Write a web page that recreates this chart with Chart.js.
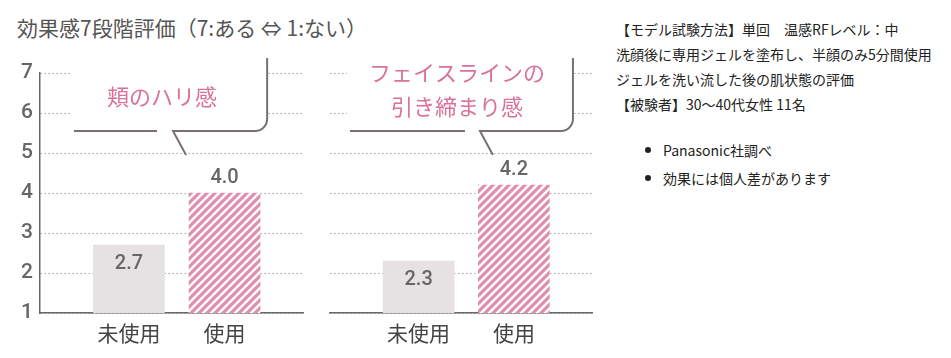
<!DOCTYPE html>
<html lang="ja">
<head>
<meta charset="utf-8">
<script src="https://cdn.jsdelivr.net/npm/chart.js@4.4.0/dist/chart.umd.min.js"></script>
<style>
body { margin: 0; background: #fff; width: 951px; height: 358px; overflow: hidden; position: relative; font-family: "Noto Sans CJK JP", sans-serif; }
#title { position: absolute; left: 17px; top: 15px; font-size: 21px; line-height: 24px; color: #555; white-space: nowrap; }
#leftWrap { position: absolute; left: 0; top: 0; width: 310px; height: 358px; }
#rightWrap { position: absolute; left: 310px; top: 0; width: 290px; height: 358px; }
#notes { position: absolute; left: 616px; top: 17px; font-size: 14px; line-height: 25px; color: #222; white-space: nowrap; }
#notes .b { position: relative; padding-left: 47px; line-height: 28px; }
#notes .b::before { content: ""; position: absolute; left: 29px; top: 11px; width: 6px; height: 6px; border-radius: 50%; background: #222; }
#notes .gap { height: 19px; }
</style>
</head>
<body>
<div id="title">効果感7段階評価（7:ある ⇔ 1:ない）</div>
<div id="leftWrap"><canvas id="chartHari" width="310" height="358"></canvas></div>
<div id="rightWrap"><canvas id="chartLine" width="290" height="358"></canvas></div>
<div id="notes">
  <div>【モデル試験方法】単回　温感RFレベル：中</div>
  <div>洗顔後に専用ジェルを塗布し、半顔のみ5分間使用</div>
  <div>ジェルを洗い流した後の肌状態の評価</div>
  <div>【被験者】30～40代女性 11名</div>
  <div class="gap"></div>
  <div class="b">Panasonic社調べ</div>
  <div class="b">効果には個人差があります</div>
</div>
<script>
var categories = ['未使用', '使用'];
var hariValues = [2.7, 4.0];
var lineValues = [2.3, 4.2];
var yTicks = [1, 2, 3, 4, 5, 6, 7];

var grayColor = '#e6e1e3';
var pinkColor = '#de8fae';
var numFont = 'Roboto, "DejaVu Sans", sans-serif';
var jpFont = '"Noto Sans CJK JP", sans-serif';

// diagonal stripe fill for the "使用" bars
function makeStripes() {
    var c = document.createElement('canvas');
    c.width = 8; c.height = 8;
    var g = c.getContext('2d');
    g.fillStyle = '#fff';
    g.fillRect(0, 0, 8, 8);
    g.strokeStyle = pinkColor;
    g.lineWidth = 3.2;
    g.beginPath();
    g.moveTo(-2, 2); g.lineTo(2, -2);
    g.moveTo(0, 8); g.lineTo(8, 0);
    g.moveTo(6, 10); g.lineTo(10, 6);
    g.stroke();
    return g.createPattern(c, 'repeat');
}
var stripes = makeStripes();

// speech-bubble caption, placed in scale units
var bubblePlugin = {
    id: 'bubble',
    afterDatasetsDraw: function (chart, args, o) {
        var ctx = chart.ctx;
        var px = function (v) { return chart.scales.x.getPixelForValue(v); };
        var py = function (v) { return chart.scales.y.getPixelForValue(v); };
        var base = py(o.base), top = py(o.top), right = px(o.right), r = 12;
        ctx.save();
        ctx.fillStyle = '#fff';
        ctx.fillRect(px(o.left) - 3, top, right - px(o.left) + 3, base - top - 2);
        ctx.strokeStyle = '#7a7072';
        ctx.lineWidth = 2;
        ctx.beginPath();
        ctx.moveTo(px(o.left), base);
        ctx.lineTo(px(o.gapL), base);
        ctx.moveTo(px(o.tip), py(o.tipY));
        ctx.lineTo(px(o.gapR), base);
        ctx.lineTo(right - r, base);
        ctx.arcTo(right, base, right, base - r, r);
        ctx.lineTo(right, top);
        ctx.stroke();
        ctx.fillStyle = '#d9719a';
        ctx.font = '22px ' + jpFont;
        ctx.textAlign = 'center';
        ctx.textBaseline = 'middle';
        o.lines.forEach(function (t, i) {
            ctx.fillText(t, px(o.textX), py(o.textY[i]));
        });
        ctx.restore();
    }
};

var valuePlugin = {
    id: 'values',
    afterDatasetsDraw: function (chart) {
        var ctx = chart.ctx;
        var meta = chart.getDatasetMeta(0);
        ctx.save();
        ctx.fillStyle = '#666';
        ctx.font = '500 20px ' + numFont;
        ctx.textAlign = 'center';
        ctx.textBaseline = 'middle';
        meta.data.forEach(function (bar, i) {
            var v = chart.data.datasets[0].data[i].y;
            ctx.fillText(v.toFixed(1), bar.x, i === 0 ? bar.y + 19 : bar.y - 15);
        });
        ctx.restore();
    }
};

function makeChart(id, values, showAxis, padLeft, padRight, bubble) {
    return new Chart(document.getElementById(id), {
        type: 'bar',
        data: {
            datasets: [{
                data: values.map(function (v, i) { return { x: i + 1, y: v }; }),
                backgroundColor: [grayColor, stripes],
                borderWidth: 0,
                barThickness: 71
            }]
        },
        options: {
            responsive: false,
            animation: false,
            layout: { padding: { top: 73, bottom: 0, left: padLeft, right: padRight } },
            plugins: {
                legend: { display: false },
                tooltip: { enabled: false },
                bubble: bubble
            },
            scales: {
                x: {
                    type: 'linear',
                    min: 0.07,
                    max: 2.82,
                    offset: false,
                    bounds: 'data',
                    afterBuildTicks: function (s) {
                        s.ticks = categories.map(function (c, i) { return { value: i + 1 }; });
                    },
                    afterFit: function (s) { s.height = 45; },
                    grid: { display: false, drawTicks: false },
                    border: { color: '#666', width: 1.5 },
                    ticks: {
                        autoSkip: false,
                        maxRotation: 0,
                        padding: 7,
                        color: '#444',
                        font: { family: jpFont, size: 21 },
                        callback: function (v) { return categories[v - 1]; }
                    }
                },
                y: {
                    min: 1,
                    max: 7,
                    afterBuildTicks: function (s) {
                        s.ticks = yTicks.map(function (t) { return { value: t }; });
                    },
                    afterFit: function (s) { s.width = showAxis ? 40 : 0; },
                    grid: { color: '#a8a8a8', lineWidth: 1, drawTicks: false },
                    border: { display: showAxis, color: '#666', width: 1.5, dash: [1.5, 2.5] },
                    ticks: {
                        display: showAxis,
                        padding: 7,
                        color: '#666',
                        font: { family: numFont, size: 21, weight: '500' }
                    }
                }
            }
        },
        plugins: [bubblePlugin, valuePlugin]
    });
}

makeChart('chartHari', hariValues, true, 0, 7, {
    lines: ['頬のハリ感'],
    textX: 1.346, textY: [6.4],
    left: 0.426, gapL: 1.294, gapR: 1.461, tip: 1.597, right: 2.445,
    base: 5.55, top: 7.375, tipY: 4.95
});
makeChart('chartLine', lineValues, false, 20, 8, {
    lines: ['フェイスラインの', '引き締まり感'],
    textX: 1.403, textY: [7.0, 6.15],
    left: 0.28, gapL: 1.487, gapR: 1.644, tip: 1.78, right: 2.62,
    base: 5.55, top: 7.375, tipY: 4.95
});
</script>
</body>
</html>
